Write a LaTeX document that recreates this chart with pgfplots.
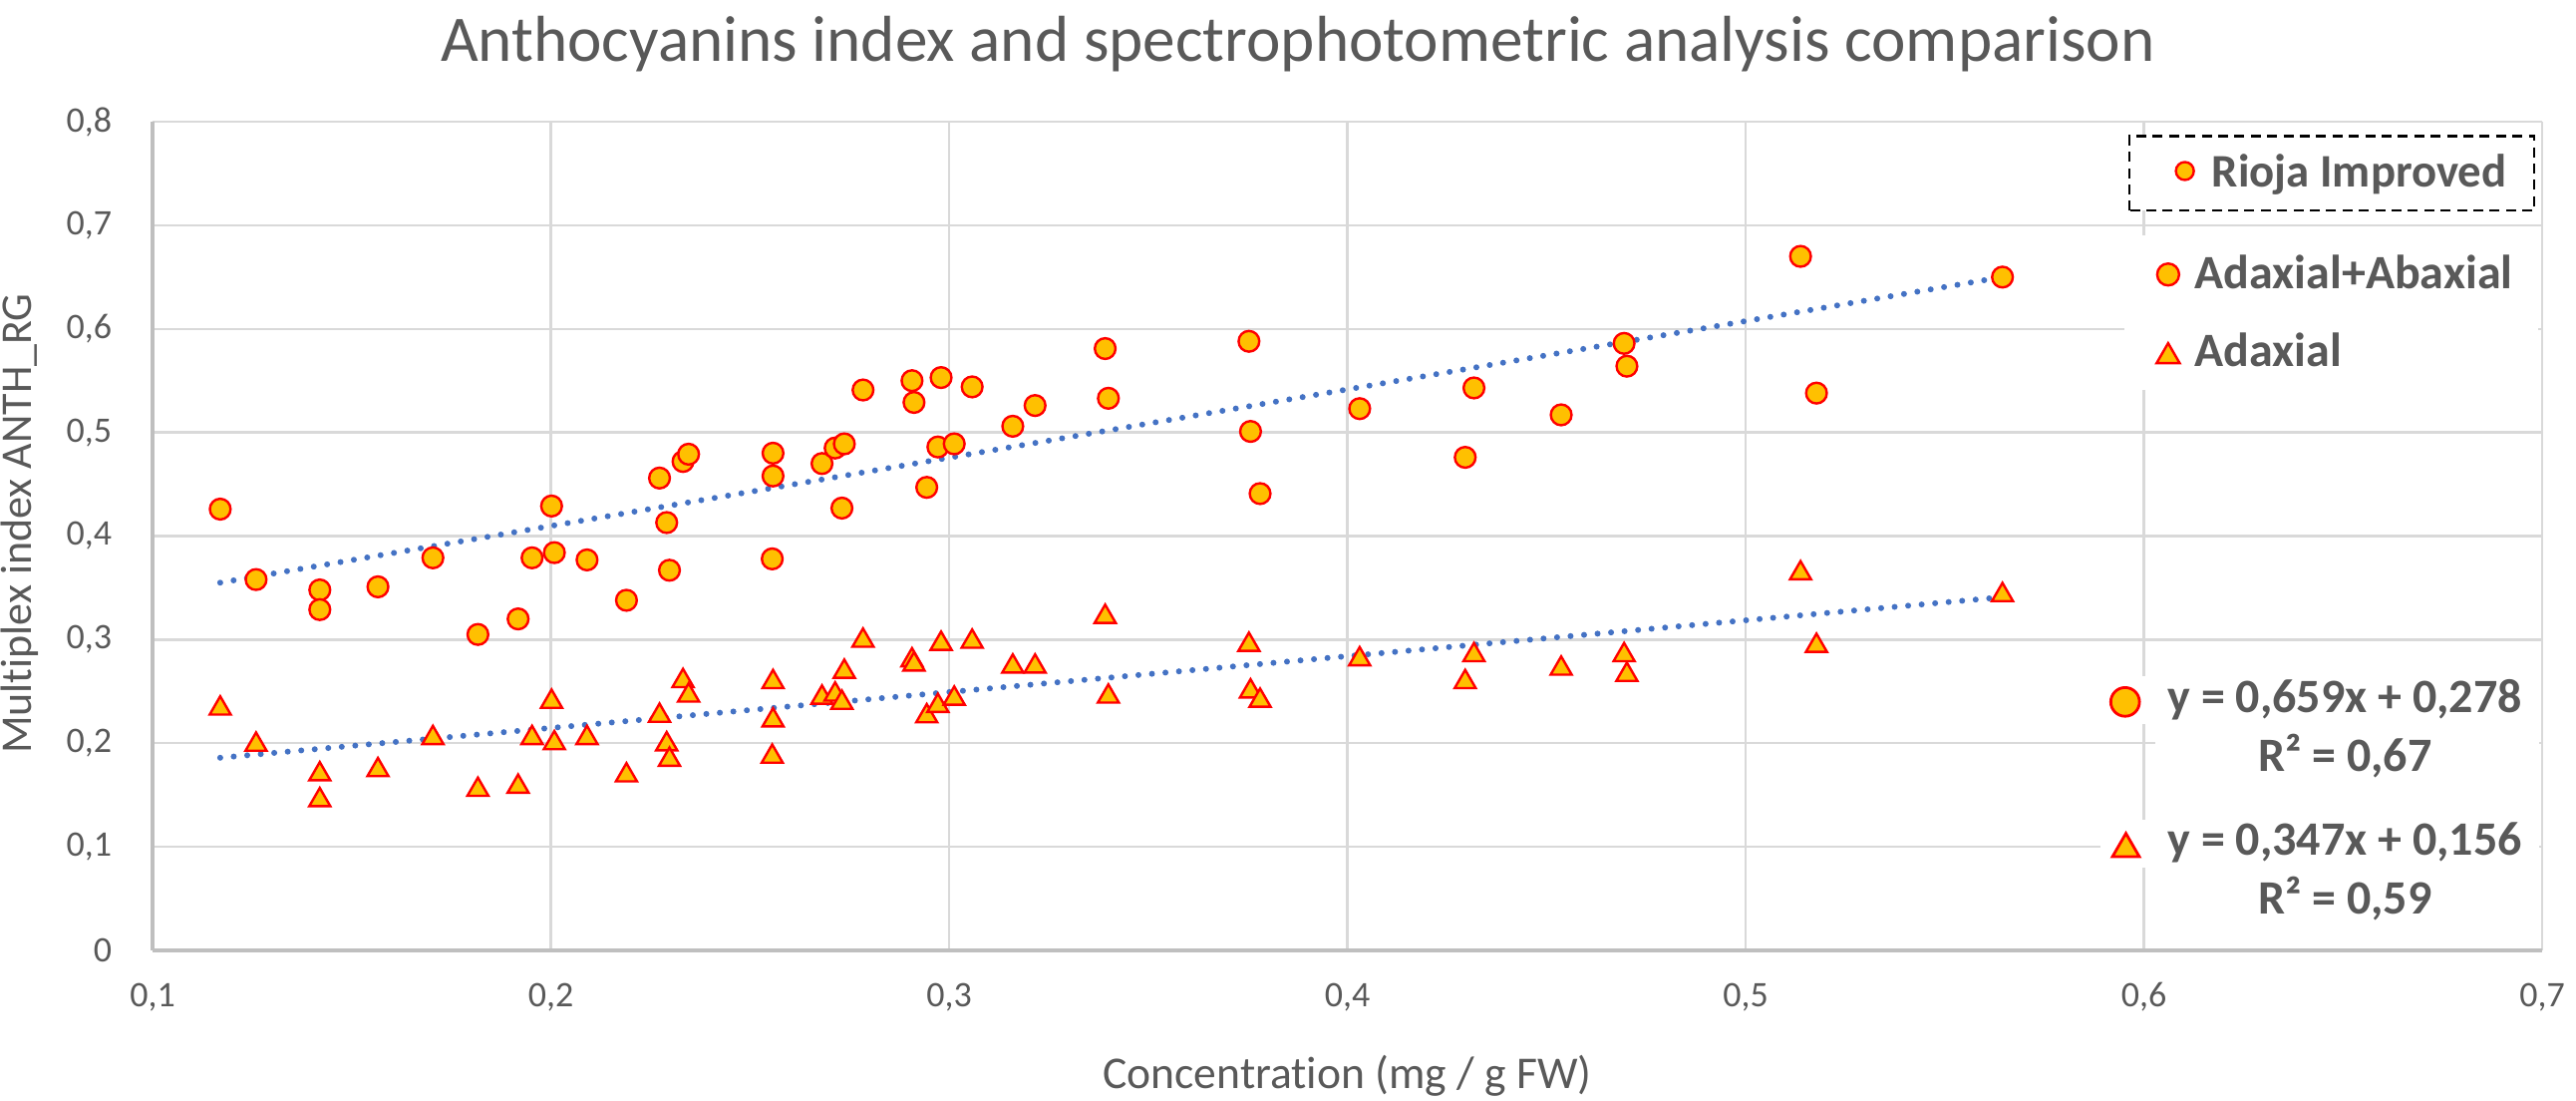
\documentclass[border=0pt]{standalone}
\usepackage{fontspec}
\setmainfont{Carlito}[Ligatures=NoCommon]
\usepackage{pgfplots}
\pgfplotsset{compat=1.18}
\usepackage{pgfplotstable}
\definecolor{txt}{HTML}{595959}
\definecolor{grd}{HTML}{D9D9D9}
\definecolor{axl}{HTML}{BFBFBF}
\definecolor{mfill}{HTML}{FFC000}
\definecolor{mdraw}{HTML}{FF0000}
\definecolor{trend}{HTML}{4472C4}

\pgfplotstableread{
x y
0.117 0.426
0.126 0.358
0.142 0.348
0.142 0.329
0.1566 0.351
0.1704 0.379
0.1817 0.305
0.1918 0.320
0.1953 0.379
0.2002 0.429
0.2009 0.384
0.2091 0.377
0.2190 0.338
0.2273 0.456
0.2291 0.413
0.2298 0.367
0.2332 0.472
0.2346 0.479
0.2558 0.480
0.2558 0.458
0.2556 0.378
0.2681 0.470
0.2714 0.485
0.2737 0.489
0.2731 0.427
0.2784 0.541
0.2907 0.550
0.2912 0.529
0.2980 0.553
0.2944 0.447
0.2972 0.486
0.3013 0.489
0.3058 0.544
0.3160 0.506
0.3216 0.526
0.3392 0.581
0.3400 0.533
0.3753 0.588
0.3757 0.501
0.3781 0.441
0.4031 0.523
0.4318 0.543
0.4296 0.476
0.4537 0.517
0.4695 0.586
0.4702 0.564
0.5138 0.670
0.5178 0.538
0.5645 0.650
}\adab

\pgfplotstableread{
x y
0.117 0.2365
0.126 0.2016
0.142 0.173
0.142 0.148
0.1566 0.177
0.1704 0.208
0.1817 0.158
0.1918 0.161
0.1953 0.208
0.2002 0.243
0.2009 0.203
0.2091 0.208
0.2190 0.172
0.2273 0.2295
0.2291 0.202
0.2298 0.187
0.2332 0.263
0.2346 0.249
0.2558 0.262
0.2558 0.225
0.2556 0.190
0.2681 0.247
0.2714 0.250
0.2737 0.272
0.2731 0.242
0.2784 0.302
0.2907 0.283
0.2912 0.279
0.2980 0.299
0.2944 0.229
0.2972 0.239
0.3013 0.246
0.3058 0.301
0.3160 0.277
0.3216 0.277
0.3392 0.325
0.3400 0.248
0.3753 0.298
0.3757 0.253
0.3781 0.244
0.4031 0.284
0.4318 0.288
0.4296 0.262
0.4537 0.275
0.4695 0.288
0.4702 0.269
0.5138 0.367
0.5178 0.297
0.5645 0.346
}\adax

\begin{document}
\begin{tikzpicture}
\path[use as bounding box] (-38.25pt,-37.75pt) rectangle (607.75pt,238.25pt);
\begin{axis}[
  at={(0,0)}, anchor=south west,
  scale only axis, width=599.25pt, height=207.75pt,
  xmin=0.1, xmax=0.7, ymin=0, ymax=0.8,
  xtick={0.1,0.2,0.3,0.4,0.5,0.6,0.7},
  ytick={0,0.1,0.2,0.3,0.4,0.5,0.6,0.7,0.8},
  axis x line=bottom, axis y line=left,
  axis line style={-, draw=axl, line width=0.9pt},
  major tick length=0pt,
  grid=major,
  major grid style={draw=grd, line width=0.6pt},
  clip=false,
  /pgf/number format/fixed, /pgf/number format/precision=1,
  /pgf/number format/use comma, /pgf/number format/assume math mode=true,
  xticklabel style={font=\fontsize{9}{10}\selectfont, text=txt, anchor=center, inner sep=0pt, yshift=-11.75pt},
  yticklabel style={font=\fontsize{9}{10}\selectfont, text=txt, anchor=east, inner sep=0pt, xshift=-10pt},
  title={Anthocyanins index and spectrophotometric analysis comparison},
  every axis title shift=0pt,
  title style={font=\fontsize{16.3}{19}\selectfont, text=txt, at={(axis description cs:0.4793,1)}, anchor=base, yshift=15.25pt, inner sep=0pt},
  xlabel={Concentration (mg / g FW)},
  xlabel style={font=\fontsize{11.4}{13}\selectfont, text=txt, at={(axis description cs:0.5,0)}, anchor=center, yshift=-31.5pt},
  ylabel={Multiplex index ANTH\_RG},
  ylabel style={font=\fontsize{11}{13}\selectfont, text=txt, at={(axis description cs:-0.0555,0.515)}, anchor=center},
]
% data
\addplot[only marks, mark=*, mark size=2.6pt, mark options={fill=mfill, draw=mdraw, line width=0.6pt}] table[x=x,y=y] {\adab};
\addplot[only marks, mark=triangle*, mark size=3.05pt, mark options={fill=mfill, draw=mdraw, line width=0.6pt, yshift=-0.76pt}] table[x=x,y=y] {\adax};
% trendlines
\addplot[trend, line width=1.5pt, line cap=round, dash pattern=on 0pt off 3.4pt] coordinates {(0.117,0.355) (0.5645,0.650)};
\addplot[trend, line width=1.5pt, line cap=round, dash pattern=on 0pt off 3.4pt] coordinates {(0.117,0.186) (0.5645,0.341)};
% white boxes
\fill[white] (axis cs:0.595,0.541) rectangle (axis cs:0.699,0.69);
\fill[white] (axis cs:0.589,0.219) rectangle (axis cs:0.6035,0.2645);
\fill[white] (axis cs:0.603,0.165) rectangle (axis cs:0.6993,0.263);
\fill[white] (axis cs:0.589,0.080) rectangle (axis cs:0.6035,0.126);
\fill[white] (axis cs:0.603,0.025) rectangle (axis cs:0.6993,0.125);
\draw[black, fill=white, line width=0.55pt, dash pattern=on 2.5pt off 1.6pt] (axis cs:0.5963,0.714) rectangle (axis cs:0.698,0.786);
% legend-like markers
\addplot[only marks, mark=*, mark size=2.25pt, mark options={fill=mfill, draw=mdraw, line width=0.6pt}, forget plot] coordinates {(0.6103,0.7524)};
\addplot[only marks, mark=*, mark size=2.75pt, mark options={fill=mfill, draw=mdraw, line width=0.6pt}, forget plot] coordinates {(0.6061,0.6525)};
\addplot[only marks, mark=triangle*, mark size=3.35pt, mark options={fill=mfill, draw=mdraw, line width=0.6pt, yshift=-0.85pt}, forget plot] coordinates {(0.6061,0.5766)};
\addplot[only marks, mark=*, mark size=3.6pt, mark options={fill=mfill, draw=mdraw, line width=0.7pt}, forget plot] coordinates {(0.5953,0.2399)};
\addplot[only marks, mark=triangle*, mark size=3.9pt, mark options={fill=mfill, draw=mdraw, line width=0.7pt, yshift=-1pt}, forget plot] coordinates {(0.5955,0.1018)};
% texts
\node[anchor=base west, inner sep=0pt, text=txt, font=\bfseries\fontsize{11.7}{14}\selectfont] at (axis cs:0.6169,0.737) {Rioja Improved};
\node[anchor=base west, inner sep=0pt, text=txt, font=\bfseries\fontsize{12}{14}\selectfont] at (axis cs:0.6126,0.6385) {Adaxial+Abaxial};
\node[anchor=base west, inner sep=0pt, text=txt, font=\bfseries\fontsize{12}{14}\selectfont] at (axis cs:0.6126,0.5637) {Adaxial};
\node[anchor=base, inner sep=0pt, text=txt, font=\bfseries\fontsize{12}{14}\selectfont] at (axis cs:0.6505,0.2295) {y = 0,659x + 0,278};
\node[anchor=base, inner sep=0pt, text=txt, font=\bfseries\fontsize{12}{14}\selectfont] at (axis cs:0.6505,0.1729) {R² = 0,67};
\node[anchor=base, inner sep=0pt, text=txt, font=\bfseries\fontsize{12}{14}\selectfont] at (axis cs:0.6505,0.0921) {y = 0,347x + 0,156};
\node[anchor=base, inner sep=0pt, text=txt, font=\bfseries\fontsize{12}{14}\selectfont] at (axis cs:0.6505,0.0355) {R² = 0,59};
\end{axis}
\end{tikzpicture}
\end{document}
